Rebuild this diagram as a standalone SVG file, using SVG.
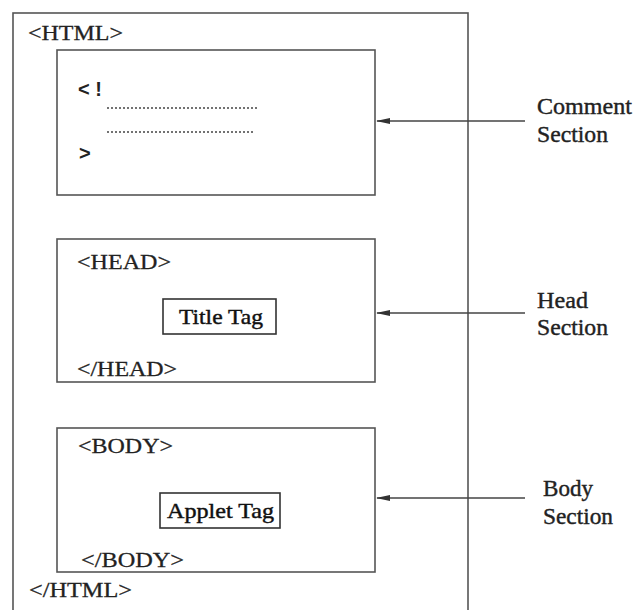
<svg xmlns="http://www.w3.org/2000/svg" width="634" height="610" viewBox="0 0 634 610">
<style>
.box{fill:#fff;stroke:#555;stroke-width:1.6}
.inner{fill:#fff;stroke:#333;stroke-width:1.6}
.t{font-family:"Liberation Serif","Times New Roman",serif;fill:#222;font-size:22px;stroke:#222;stroke-width:0.3}
.tb{font-family:"Liberation Serif","Times New Roman",serif;fill:#111;font-size:22px;stroke:#111;stroke-width:0.45}
.lbl{font-family:"Liberation Serif","Times New Roman",serif;fill:#222;font-size:23px;stroke:#222;stroke-width:0.4}
.s{font-family:"Liberation Sans",Arial,sans-serif;fill:#222;font-size:20px;font-weight:bold}
.conn{stroke:#444;stroke-width:1.5;fill:none}
.dot{stroke:#444;stroke-width:1.5;stroke-dasharray:2 2}
</style>
<defs>
<marker id="ah" markerWidth="14" markerHeight="8" refX="13" refY="4" orient="auto" markerUnits="userSpaceOnUse">
<path d="M14,4 L0,1 L0,7 Z" fill="#333"/>
</marker>
</defs>
<rect width="634" height="610" fill="#fff"/>
<g id="html">
<rect class="box" x="13" y="13" width="455" height="620"/>
<text class="t" x="28" y="40" textLength="95" lengthAdjust="spacingAndGlyphs">&lt;HTML&gt;</text>
<text class="t" x="29" y="597" textLength="103" lengthAdjust="spacingAndGlyphs">&lt;/HTML&gt;</text>
</g>
<g id="comment">
<rect class="box" x="57" y="50" width="318" height="145"/>
<text class="s" x="78" y="96">&lt; !</text>
<line class="dot" x1="107" y1="108" x2="257" y2="108"/>
<line class="dot" x1="107" y1="132" x2="255" y2="132"/>
<text class="s" x="79" y="160">&gt;</text>
</g>
<g id="head">
<rect class="box" x="57" y="239" width="318" height="143"/>
<text class="t" x="77" y="269" textLength="94" lengthAdjust="spacingAndGlyphs">&lt;HEAD&gt;</text>
<text class="t" x="77" y="376" textLength="100" lengthAdjust="spacingAndGlyphs">&lt;/HEAD&gt;</text>
<g id="title-tag">
<rect class="inner" x="163" y="299" width="113" height="35"/>
<text class="tb" x="179" y="324" textLength="84" lengthAdjust="spacingAndGlyphs">Title Tag</text>
</g>
</g>
<g id="body">
<rect class="box" x="57" y="428" width="318" height="144"/>
<text class="t" x="78" y="453" textLength="95" lengthAdjust="spacingAndGlyphs">&lt;BODY&gt;</text>
<text class="t" x="81" y="567" textLength="103" lengthAdjust="spacingAndGlyphs">&lt;/BODY&gt;</text>
<g id="applet-tag">
<rect class="inner" x="160" y="493" width="120" height="35"/>
<text class="tb" x="167" y="518" textLength="107" lengthAdjust="spacingAndGlyphs">Applet Tag</text>
</g>
</g>
<g id="labels">
<text class="lbl" x="537" y="114" textLength="95" lengthAdjust="spacingAndGlyphs">Comment</text>
<text class="lbl" x="537" y="142" textLength="71" lengthAdjust="spacingAndGlyphs">Section</text>
<text class="lbl" x="537" y="308" textLength="51" lengthAdjust="spacingAndGlyphs">Head</text>
<text class="lbl" x="537" y="335" textLength="71" lengthAdjust="spacingAndGlyphs">Section</text>
<text class="lbl" x="543" y="496" textLength="50" lengthAdjust="spacingAndGlyphs">Body</text>
<text class="lbl" x="543" y="524" textLength="70" lengthAdjust="spacingAndGlyphs">Section</text>
</g>
<g id="connectors">
<line class="conn" x1="525" y1="121" x2="377" y2="121" marker-end="url(#ah)"/>
<line class="conn" x1="525" y1="313" x2="377" y2="313" marker-end="url(#ah)"/>
<line class="conn" x1="525" y1="498" x2="377" y2="498" marker-end="url(#ah)"/>
</g>
</svg>
